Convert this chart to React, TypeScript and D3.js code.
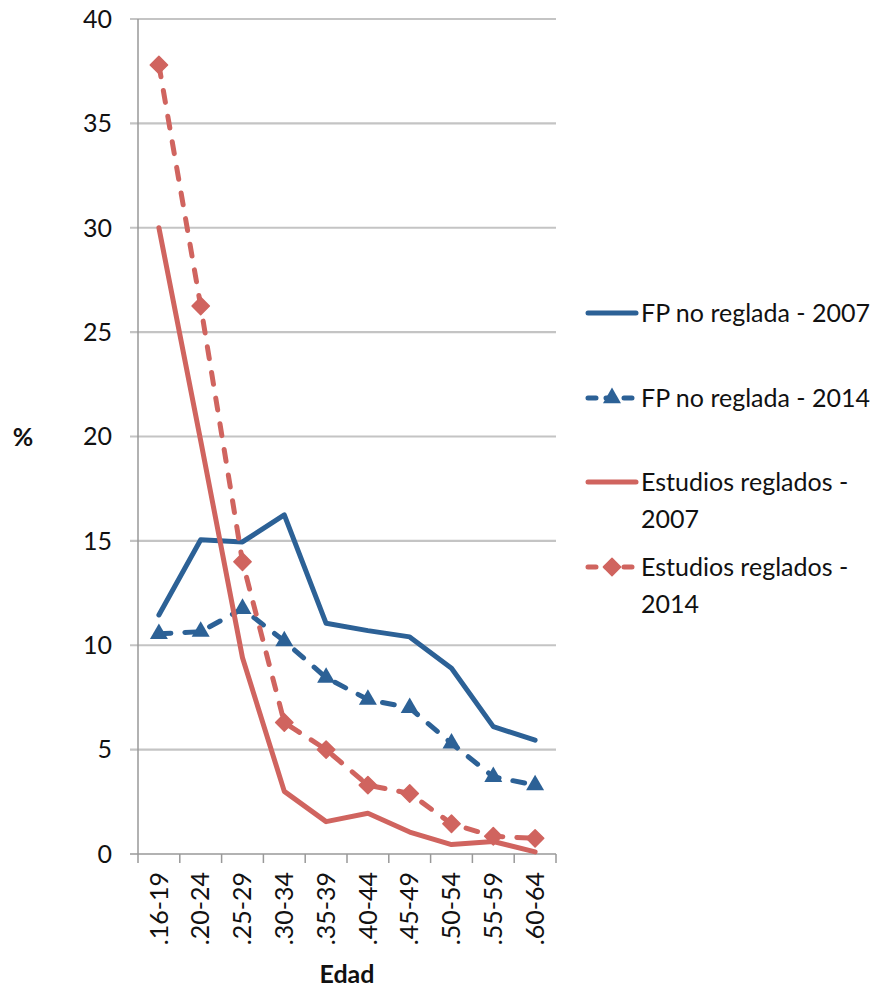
import React from 'react'
import * as d3 from 'd3'

// age groups on the x axis
const edades = ['.16-19', '.20-24', '.25-29', '.30-34', '.35-39', '.40-44', '.45-49', '.50-54', '.55-59', '.60-64']

const fpNoReglada2007 = [11.45, 15.05, 14.95, 16.25, 11.05, 10.7, 10.4, 8.9, 6.1, 5.45]
const fpNoReglada2014 = [10.55, 10.65, 11.75, 10.2, 8.45, 7.4, 7.0, 5.3, 3.7, 3.3]
const estudiosReglados2007 = [30.0, 19.8, 9.4, 3.0, 1.55, 1.95, 1.05, 0.45, 0.6, 0.1]
const estudiosReglados2014 = [37.8, 26.25, 14.0, 6.3, 5.0, 3.3, 2.9, 1.45, 0.85, 0.75]

const yTicks = [0, 5, 10, 15, 20, 25, 30, 35, 40]

const BLUE = '#2c6196'
const RED = '#d0645f'

const series = [
  {name: ['FP no reglada - 2007'], values: fpNoReglada2007, color: BLUE, dashed: false, marker: 'none'},
  {name: ['FP no reglada - 2014'], values: fpNoReglada2014, color: BLUE, dashed: true, marker: 'triangle'},
  {name: ['Estudios reglados -', '2007'], values: estudiosReglados2007, color: RED, dashed: false, marker: 'none'},
  {name: ['Estudios reglados -', '2014'], values: estudiosReglados2014, color: RED, dashed: true, marker: 'diamond'},
]

const FONT = 'Lato, "Open Sans", sans-serif'

function Marker({type, x, y, color}: {type: string, x: number, y: number, color: string}) {
  if (type === 'triangle') {
    const s = d3.symbol(d3.symbolTriangle, 140)
    return <path d={s() as string} transform={`translate(${x},${y})`} fill={color} />
  }
  if (type === 'diamond') {
    // square diamond like excel's, not d3's narrow one
    const s = d3.symbol(d3.symbolSquare, 150)
    return <path d={s() as string} transform={`translate(${x},${y}) rotate(45)`} fill={color}
      stroke={color} strokeWidth={1.5} strokeLinejoin="round" />
  }
  return null
}

export default function App() {
  const width = 883
  const height = 987
  const left = 138
  const right = 556
  const top = 19
  const bottom = 854

  const x = d3.scaleBand().domain(edades).range([left, right])
  const y = d3.scaleLinear().domain([0, 40]).range([bottom, top])

  const line = d3.line<number>()
    .x((d, i) => (x(edades[i]) as number) + x.bandwidth() / 2)
    .y(d => y(d))

  // legend rows, y position of the sample line
  const legendY = [313, 398, 482, 567]

  return (
    <svg width={width} height={height} style={{position: 'absolute', left: 0, top: 0, background: '#fff'}}
      fontFamily={FONT}>

      {/* grid lines + y labels */}
      {yTicks.map(t => (
        <g key={t}>
          {t > 0 && <line x1={left - 8} x2={right} y1={y(t)} y2={y(t)} stroke="#c4c4c4" strokeWidth={2.2} />}
          <text x={112} y={y(t)} dy="0.35em" textAnchor="end" fontSize={25} fill="#111">{t}</text>
        </g>
      ))}

      {/* axes */}
      <line x1={left} x2={left} y1={top} y2={bottom} stroke="#999" strokeWidth={1.5} />
      <line x1={left - 8} x2={right} y1={bottom} y2={bottom} stroke="#999" strokeWidth={1.5} />
      {edades.map(e => (
        <line key={e} x1={(x(e) as number)} x2={(x(e) as number)} y1={bottom} y2={bottom + 9} stroke="#999" strokeWidth={1.5} />
      ))}
      <line x1={right} x2={right} y1={bottom} y2={bottom + 9} stroke="#999" strokeWidth={1.5} />

      {edades.map(e => {
        const cx = (x(e) as number) + x.bandwidth() / 2
        return (
          <text key={e} transform={`translate(${cx},${872}) rotate(-90)`} dy="0.35em" textAnchor="end"
            fontSize={25} fill="#111">{e}</text>
        )
      })}

      <text x={347} y={983} textAnchor="middle" fontSize={25} fontWeight="bold" fill="#111">Edad</text>
      <text x={23} y={437} dy="0.35em" textAnchor="middle" fontSize={25} fontWeight="bold" fill="#111">%</text>

      {/* series */}
      {series.map((s, si) => (
        <g key={si}>
          <path d={line(s.values) as string} fill="none" stroke={s.color} strokeWidth={5}
            strokeLinejoin="round" strokeLinecap="round"
            strokeDasharray={s.dashed ? '12 14' : undefined} />
          {s.values.map((v, i) => (
            <Marker key={i} type={s.marker} x={(x(edades[i]) as number) + x.bandwidth() / 2} y={y(v)} color={s.color} />
          ))}
        </g>
      ))}

      {/* legend */}
      {series.map((s, si) => (
        <g key={si}>
          <line x1={588} x2={636} y1={legendY[si]} y2={legendY[si]} stroke={s.color} strokeWidth={5}
            strokeLinecap="round" strokeDasharray={s.dashed ? '8 10' : undefined} />
          <Marker type={s.marker} x={612} y={legendY[si]} color={s.color} />
          {s.name.map((n, k) => (
            <text key={k} x={641} y={legendY[si] + k * 37} dy="0.35em" fontSize={25} fill="#111">{n}</text>
          ))}
        </g>
      ))}
    </svg>
  )
}
